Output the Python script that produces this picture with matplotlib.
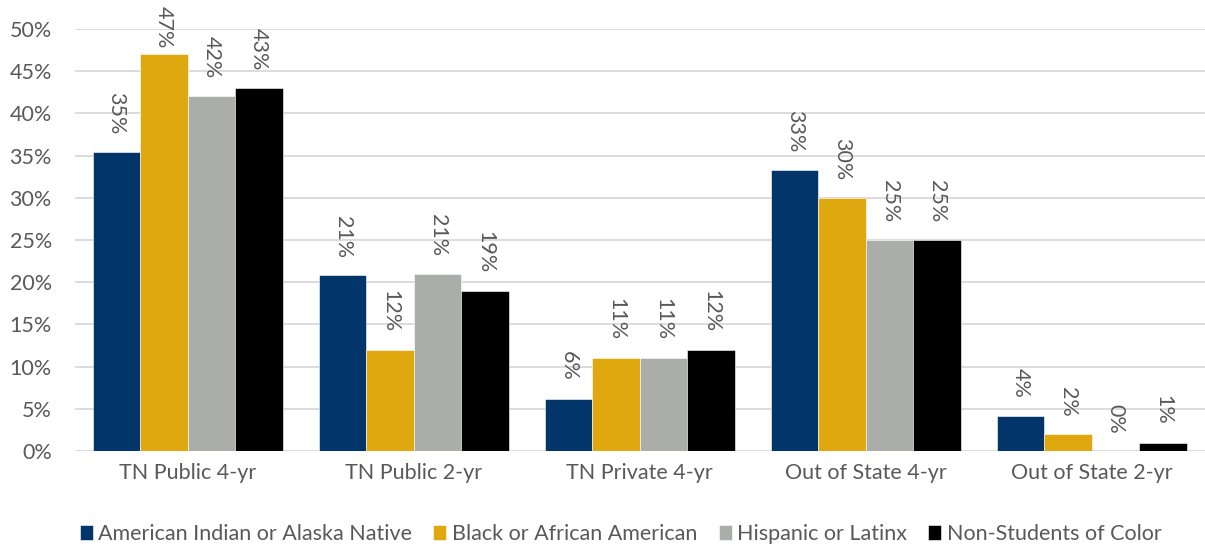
import numpy as np
import matplotlib.pyplot as plt
from matplotlib.ticker import PercentFormatter

plt.rcParams['font.family'] = ['Lato', 'DejaVu Sans']

categories = ["TN Public 4-yr", "TN Public 2-yr", "TN Private 4-yr",
              "Out of State 4-yr", "Out of State 2-yr"]
series_names = ["American Indian or Alaska Native", "Black or African American",
                "Hispanic or Latinx", "Non-Students of Color"]
american_indian = [35.4, 20.8, 6.2, 33.3, 4.2]
black_african_american = [47, 12, 11, 30, 2]
hispanic_latinx = [42, 21, 11, 25, 0]
non_students_of_color = [43, 19, 12, 25, 1]

series = [american_indian, black_african_american, hispanic_latinx, non_students_of_color]
colors = ["#02366A", "#E0A80F", "#ABADA8", "#000000"]
text_color = "#595959"
fs = 15.5

fig = plt.figure(figsize=(12.05, 5.46), dpi=100)
ax = fig.add_axes([0.062, 0.174, 0.938, 0.773])

x = np.arange(len(categories))
width = 0.21
offsets = (np.arange(len(series)) - 1.5) * width

for vals, name, c, off in zip(series, series_names, colors, offsets):
    ax.bar(x + off, vals, width, color=c, label=name, edgecolor="white", linewidth=0.4, zorder=3)
    for xi, v in zip(x + off, vals):
        ax.text(xi, min(v + 2.1, 47.7), f"{round(v):.0f}%", rotation=270,
                ha="center", va="bottom", fontsize=fs, color=text_color, zorder=4)

ax.set_xlim(-0.5, len(categories) - 0.5)
ax.set_ylim(0, 50)
ax.set_yticks(np.arange(0, 51, 5))
ax.yaxis.set_major_formatter(PercentFormatter(decimals=0))
ax.set_xticks(x)
ax.set_xticklabels(categories)
ax.tick_params(axis="both", length=0, labelsize=fs, labelcolor=text_color)
ax.tick_params(axis="x", pad=9)
ax.tick_params(axis="y", pad=16.5)
ax.grid(axis="y", color="#D9D9D9", linewidth=1.3, zorder=0)
for s in ax.spines.values():
    s.set_visible(False)

fig.legend(*ax.get_legend_handles_labels(), loc="center", bbox_to_anchor=(0.515, 0.022),
           ncol=4, frameon=False, fontsize=fs, handlelength=0.6, handleheight=0.75,
           handletextpad=0.25, columnspacing=1.0, labelcolor=text_color, borderaxespad=0)

fig.savefig("out.png", dpi=100)
